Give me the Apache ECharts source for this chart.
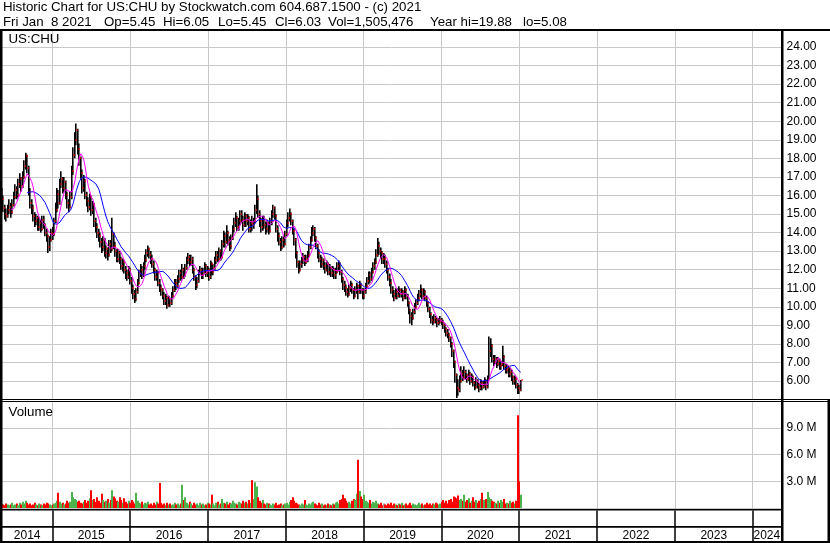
<!DOCTYPE html>
<html><head><meta charset="utf-8">
<script src="https://cdn.jsdelivr.net/npm/echarts@6/dist/echarts.min.js"></script>
<style>html,body{margin:0;padding:0;background:#fff}#c{width:830px;height:543px}</style>
</head><body><div id="c"></div>
<script>
// ---- data (weekly, first week ending Fri 2014-05-09, last week ending Fri 2021-01-08) ----
var startDate = [2014, 4, 9];
var closes = [
15.8,15.3,15.0,14.9,15.2,15.4,15.1,15.5,15.9,16.3,
16.0,16.6,16.9,16.5,17.0,17.6,18.1,17.5,16.2,15.6,
15.3,14.9,14.6,14.8,14.3,14.5,14.2,14.7,14.4,14.0,
13.8,13.2,13.6,14.0,13.9,14.6,15.2,16.1,15.6,16.6,
16.9,16.4,16.7,16.0,15.6,15.4,15.9,17.3,18.2,19.0,
19.5,18.5,18.0,17.2,16.4,16.8,16.0,15.7,15.4,15.9,
15.2,15.5,14.6,14.3,14.0,13.8,13.5,13.2,13.6,12.9,
13.1,12.8,13.4,13.1,13.9,13.3,13.0,12.6,12.9,12.6,
12.2,12.4,12.0,11.8,11.6,12.0,11.4,11.0,10.7,10.4,
10.8,11.3,11.8,12.0,11.7,12.2,12.5,12.9,13.1,12.8,
12.6,12.3,12.0,11.6,11.8,11.3,11.0,10.9,10.6,10.3,
10.5,10.1,10.4,10.2,10.6,10.9,11.3,11.1,11.5,11.8,
11.6,12.0,11.7,12.1,12.5,12.7,12.4,12.6,12.0,11.6,
11.2,11.4,11.8,12.0,11.7,11.9,12.2,11.8,12.0,11.6,
12.3,11.9,12.1,12.5,12.8,12.6,13.0,12.7,13.4,13.8,
13.5,14.0,13.6,13.3,13.7,14.2,14.5,14.8,14.3,14.6,
15.0,14.7,14.4,14.9,14.6,14.8,14.2,14.5,14.4,14.6,
15.2,15.8,15.0,14.6,14.3,14.7,14.4,14.2,14.5,14.1,
14.6,15.0,15.3,14.9,14.2,13.8,13.5,13.2,13.6,13.4,
13.9,14.5,14.8,15.0,14.6,14.1,13.6,12.9,12.4,12.0,
12.3,12.5,12.7,12.4,12.6,12.8,13.2,13.6,14.0,14.2,
13.7,13.3,12.9,12.6,12.3,12.5,12.2,12.0,12.3,11.9,
12.1,11.8,12.0,11.7,11.9,12.2,12.3,11.9,11.5,11.2,
11.0,10.8,10.7,11.0,11.2,10.9,10.6,10.9,11.1,10.8,
11.2,10.9,10.6,10.8,11.1,11.4,11.7,11.5,11.9,12.2,
12.4,12.8,13.3,13.0,12.9,12.6,12.6,12.3,12.0,11.6,
11.3,10.9,10.7,10.5,10.8,10.6,10.9,10.7,10.8,10.5,
10.9,10.6,10.2,9.8,9.5,9.4,9.7,10.0,10.2,10.5,
10.7,10.9,10.6,10.8,10.5,10.2,9.9,9.6,9.3,9.2,
9.4,9.3,9.1,9.2,9.3,9.2,9.0,8.8,8.6,8.5,
8.3,8.0,7.6,7.0,6.3,5.6,5.5,6.0,6.4,6.2,
6.5,6.3,6.1,6.4,6.0,6.2,5.9,5.7,6.0,5.8,
5.6,5.9,5.7,5.8,6.0,5.7,6.1,7.6,7.9,7.2,
7.0,7.2,6.9,7.1,6.8,6.9,7.3,6.8,6.6,6.7,
6.4,6.5,6.2,6.0,6.1,5.8,5.6,5.5,6.03
];
var highs = [
16.4,16.0,15.5,15.3,15.5,15.8,15.6,15.8,16.2,16.6,
16.5,16.9,17.2,17.0,17.3,17.9,18.3,18.2,17.6,16.4,
15.8,15.5,15.1,15.0,14.9,14.8,14.7,14.9,14.9,14.5,
14.2,13.9,13.8,14.2,14.3,14.8,15.6,16.4,16.3,16.9,
17.3,17.0,17.0,16.8,16.2,15.8,16.2,17.6,18.6,19.4,
19.88,19.6,18.8,18.1,17.4,17.1,16.9,16.2,15.9,16.1,
16.0,15.7,15.6,14.8,14.5,14.2,14.0,13.7,13.8,13.7,
13.3,13.2,13.6,13.6,14.8,14.0,13.5,13.1,13.1,13.0,
12.7,12.6,12.5,12.2,12.0,12.2,12.1,11.6,11.2,10.9,
11.0,11.5,12.0,12.3,12.2,12.4,12.8,13.1,13.3,13.2,
13.0,12.8,12.5,12.1,12.0,11.9,11.5,11.2,11.0,10.8,
10.7,10.6,10.6,10.5,10.8,11.1,11.5,11.5,11.7,12.0,
12.0,12.3,12.1,12.3,12.7,12.9,12.8,12.8,12.7,12.1,
11.7,11.6,12.0,12.2,12.1,12.1,12.4,12.3,12.2,12.1,
12.5,12.4,12.3,12.7,13.0,13.0,13.2,13.1,13.6,14.1,
14.0,14.4,14.1,13.8,13.9,14.4,14.8,15.1,14.9,14.8,
15.2,15.2,14.9,15.1,15.0,15.0,14.9,14.7,14.9,14.8,
15.5,16.6,16.0,15.2,14.8,14.9,14.9,14.6,14.7,14.6,
14.8,15.2,15.5,15.4,15.0,14.4,14.0,13.7,13.8,13.8,
14.1,14.7,15.1,15.3,15.1,14.7,14.2,13.7,13.0,12.5,
12.5,12.7,12.9,12.8,12.8,13.0,13.4,13.8,14.3,14.4,
14.3,13.8,13.4,13.1,12.8,12.7,12.6,12.4,12.5,12.4,
12.3,12.2,12.2,12.1,12.1,12.4,12.5,12.4,12.0,11.6,
11.4,11.2,11.0,11.2,11.4,11.3,11.0,11.1,11.3,11.2,
11.4,11.3,11.0,11.0,11.3,11.6,11.9,11.9,12.1,12.4,
12.6,13.1,13.7,13.5,13.2,13.0,12.9,12.8,12.5,12.1,
11.8,11.5,11.1,10.9,11.0,11.0,11.1,11.0,11.0,10.9,
11.1,11.0,10.7,10.3,9.9,9.7,9.9,10.2,10.4,10.7,
10.9,11.2,11.0,11.0,10.9,10.6,10.3,10.0,9.7,9.5,
9.6,9.5,9.4,9.4,9.5,9.4,9.3,9.1,8.9,8.8,
8.6,8.4,8.1,7.7,7.1,6.4,6.1,6.3,6.8,6.6,
6.8,6.6,6.4,6.6,6.5,6.4,6.3,6.0,6.2,6.1,
5.9,6.1,6.0,6.0,6.2,6.1,6.3,8.4,8.3,8.0,
7.4,7.4,7.3,7.3,7.2,7.1,7.9,7.4,6.9,6.9,
6.8,6.7,6.6,6.3,6.3,6.2,5.9,5.8,6.05
];
var lows = [
15.4,15.1,14.7,14.6,14.8,15.0,14.8,15.0,15.4,15.8,
15.8,15.9,16.4,16.2,16.4,16.9,17.4,17.2,16.0,15.3,
15.0,14.6,14.3,14.4,14.1,14.1,14.0,14.1,14.2,13.8,
13.5,12.9,13.0,13.5,13.6,13.8,14.5,15.1,15.3,15.5,
16.4,16.1,16.2,15.8,15.3,15.1,15.3,15.8,17.1,18.0,
18.7,18.2,17.6,16.9,16.1,16.2,15.8,15.4,15.1,15.2,
14.9,15.0,14.3,14.0,13.7,13.5,13.2,12.9,13.0,12.7,
12.6,12.5,12.7,12.9,13.0,13.1,12.7,12.4,12.4,12.3,
12.0,11.9,11.8,11.5,11.4,11.5,11.2,10.7,10.4,10.2,
10.3,10.7,11.2,11.6,11.5,11.6,12.0,12.4,12.7,12.6,
12.3,12.1,11.8,11.4,11.4,11.1,10.8,10.6,10.4,10.1,
10.1,9.9,10.0,10.0,10.1,10.5,10.8,10.9,11.0,11.3,
11.4,11.5,11.5,11.6,12.0,12.3,12.2,12.2,11.8,11.4,
10.9,11.0,11.3,11.7,11.5,11.5,11.8,11.6,11.6,11.4,
11.5,11.7,11.7,12.0,12.3,12.4,12.5,12.5,12.6,13.2,
13.2,13.4,13.3,13.0,13.1,13.6,14.0,14.3,14.1,14.1,
14.4,14.5,14.1,14.3,14.3,14.4,14.0,14.0,14.1,14.2,
14.5,15.0,14.8,14.3,14.0,14.1,14.2,13.9,14.0,13.9,
14.0,14.4,14.8,14.7,14.0,13.5,13.3,13.0,13.1,13.2,
13.3,13.8,14.3,14.6,14.4,13.9,13.3,12.6,12.1,11.8,
11.9,12.1,12.3,12.2,12.3,12.4,12.7,13.1,13.5,13.8,
13.5,13.1,12.6,12.4,12.1,12.1,12.0,11.8,11.9,11.7,
11.7,11.6,11.6,11.5,11.5,11.8,11.9,11.7,11.3,10.9,
10.8,10.6,10.5,10.6,10.8,10.7,10.4,10.5,10.7,10.4,
10.7,10.7,10.4,10.4,10.7,11.0,11.2,11.3,11.4,11.8,
12.0,12.3,12.7,12.8,12.6,12.3,12.3,12.1,11.8,11.4,
11.1,10.7,10.5,10.3,10.4,10.4,10.5,10.5,10.5,10.3,
10.4,10.4,10.0,9.6,9.1,9.0,9.3,9.6,9.9,10.1,
10.3,10.5,10.4,10.4,10.3,10.0,9.7,9.4,9.1,9.0,
9.1,9.1,8.9,9.0,9.1,9.0,8.8,8.6,8.4,8.3,
8.1,7.8,7.3,6.7,5.9,5.08,5.2,5.4,5.9,6.0,
6.1,6.1,5.9,6.0,5.8,5.9,5.7,5.5,5.6,5.6,
5.4,5.5,5.5,5.6,5.7,5.5,5.6,6.1,7.3,7.0,
6.8,6.9,6.7,6.8,6.6,6.6,6.8,6.6,6.4,6.4,
6.2,6.2,6.0,5.8,5.8,5.6,5.3,5.3,5.45
];
// volume in millions of shares
var volumes = [
0.5,0.4,0.3,0.5,0.4,0.3,0.4,0.6,0.3,0.4,
0.5,0.3,0.6,0.4,0.7,0.5,0.8,0.6,0.4,0.5,
0.3,0.4,0.6,0.4,0.3,0.5,0.4,0.3,0.5,0.4,
0.6,0.5,0.4,0.3,0.4,0.5,0.6,0.8,1.7,0.7,
0.5,0.6,0.4,0.5,0.8,0.6,0.7,1.8,1.2,1.0,
0.9,0.7,0.8,0.6,0.5,0.7,0.9,0.6,0.8,1.1,
2.0,0.9,1.0,0.7,1.2,0.8,0.6,1.6,0.9,0.7,
0.8,1.0,0.6,0.9,2.0,1.3,1.1,0.8,0.7,1.2,
0.9,0.6,1.1,0.7,0.5,0.8,0.6,0.9,0.7,0.5,
1.7,0.8,0.6,0.5,0.7,0.4,0.6,0.5,0.7,0.4,
0.5,0.3,0.6,0.4,0.7,0.5,2.8,0.6,0.4,0.5,
0.3,0.6,0.4,0.5,0.3,0.4,0.6,0.4,0.5,0.3,
0.5,2.6,0.9,1.2,0.6,0.4,0.7,0.5,0.3,0.6,
0.4,0.5,0.3,0.6,0.4,0.5,0.3,0.4,0.6,0.5,
0.4,1.5,0.5,0.3,0.6,0.7,0.4,0.5,1.0,0.6,
0.5,0.7,0.4,0.6,0.5,0.8,0.6,0.5,0.4,0.7,
0.6,0.5,0.8,0.6,0.7,0.5,0.9,0.6,3.1,1.0,
2.9,2.4,1.2,0.8,0.6,0.9,0.5,0.4,0.6,0.5,
0.4,0.3,0.5,0.4,0.6,0.3,0.4,0.5,0.3,0.4,
0.5,0.6,0.4,0.7,0.9,1.2,0.8,0.6,0.5,0.4,
0.3,0.5,0.4,0.9,0.4,0.3,0.5,0.4,0.6,0.7,
0.5,0.4,0.3,0.6,0.4,0.5,0.3,0.4,0.3,0.5,
0.4,0.3,0.5,0.4,0.6,0.7,0.5,0.9,1.0,1.5,
1.1,0.8,0.6,0.7,0.5,0.8,1.0,0.9,1.6,5.4,
1.9,1.3,1.0,1.5,0.8,0.7,0.6,0.9,0.5,0.7,
0.6,0.8,0.5,0.4,0.6,0.3,0.5,0.4,0.3,0.5,
0.4,0.6,0.3,0.5,0.4,0.3,0.5,0.4,0.6,0.3,
0.4,0.5,0.3,0.4,0.6,0.3,0.5,0.4,0.3,0.4,
0.6,0.4,0.5,0.3,0.4,0.6,0.4,0.5,0.3,0.5,
0.4,0.6,0.5,0.4,0.5,0.7,0.9,0.6,0.8,0.5,
0.9,1.0,0.7,1.3,1.2,1.1,1.4,0.9,1.0,0.8,
1.5,0.7,0.9,1.1,0.6,0.8,1.2,0.7,0.9,0.6,
0.8,1.0,1.7,0.9,0.6,1.0,1.8,1.2,1.0,0.8,
0.7,0.6,0.5,0.8,0.6,0.9,0.7,1.0,0.5,0.6,
0.5,0.8,0.6,0.7,0.5,0.8,10.4,3.0,1.5
];
var yearLabels = [2014,2015,2016,2017,2018,2019,2020,2021,2022,2023,2024];
var yearBounds = [2015,2016,2017,2018,2019,2020,2021,2022,2023,2024];
var maShort = 7, maLong = 18;
var headerLine1 = 'Historic Chart for US:CHU by Stockwatch.com 604.687.1500 - (c) 2021';
var headerLine2Parts = ['Fri Jan  8 2021', 'Op=5.45', 'Hi=6.05', 'Lo=5.45', 'Cl=6.03', 'Vol=1,505,476', 'Year hi=19.88', 'lo=5.08'];
var symbolLabel = 'US:CHU';
var volumeLabel = 'Volume';

// ---- build ----
function fracYear(ms){ var d=new Date(ms); var y=d.getUTCFullYear(); var a=Date.UTC(y,0,1), b=Date.UTC(y+1,0,1); return y+(ms-a)/(b-a); }
var t0 = Date.UTC(startDate[0], startDate[1], startDate[2]);
var times = closes.map(function(_, i){ return fracYear(t0 + i*7*864e5); });
function sma(arr, n){ var out=[]; for (var i=n-1;i<arr.length;i++){ var s=0; for (var j=i-n+1;j<=i;j++) s+=arr[j]; out.push([times[i], s/n]); } return out; }

var XMIN = 2014.3536, XMAX = 2024.3637, GL = 2, GR = 49;
var labelVals = yearLabels.map(function(y){ var a=Math.max(y,XMIN), b=Math.min(y+1,XMAX); return (a+b)/2; });
var FONT = '"Liberation Sans", Arial, sans-serif';
var HFS = 13.3;

var ohlc = times.map(function(t,i){ return [t, lows[i], highs[i], closes[i]]; });
var vol = times.map(function(t,i){ var d = i===0 ? 1 : (closes[i]>closes[i-1] ? 1 : (closes[i]<closes[i-1] ? -1 : 0)); return [t, volumes[i], d]; });

function R(x,y,w,h,fill,z){ return {type:'rect', shape:{x:x,y:y,width:w,height:h}, style:{fill:fill||'#000'}, z:z||100, silent:true}; }
function T(x,y,txt){ return {type:'text', x:x, y:y, z:101, silent:true, style:{text:txt, fill:'#000', fontSize:HFS, fontFamily:FONT, verticalAlign:'top', align:'left'}}; }

function gx(idx){ return {gridIndex:idx, type:'value', min:XMIN, max:XMAX, axisLine:{show:false},
  axisTick:{show:false, customValues:yearBounds}, axisLabel:{show:false},
  splitLine:{show:true, lineStyle:{color:'#c8c8c8', width:1}}}; }

var line2X = [3, 104, 163, 218, 275, 328, 430, 523];
var headerTexts = [T(3,1,headerLine1)].concat(headerLine2Parts.map(function(s,i){ return T(line2X[i],16,s); }));

var chart = echarts.init(document.getElementById('c'));
chart.setOption({
  animation:false,
  backgroundColor:'#fff',
  grid:[
    {left:GL, right:GR, top:28.44, height:371.12},
    {left:GL, right:GR, top:401, height:107},
    {left:GL, right:GR, top:510.5, height:30.5}
  ],
  xAxis:[
    gx(0), gx(1),
    {gridIndex:2, type:'value', min:XMIN, max:XMAX, axisLine:{show:false},
     axisTick:{show:false, customValues:yearBounds},
     splitLine:{show:true, lineStyle:{color:'#000', width:1.5}},
     axisLabel:{show:true, customValues:labelVals, inside:true, margin:-1, color:'#000', fontFamily:FONT, fontSize:12,
       formatter:function(v){ return String(Math.floor(v+1e-6)); }}}
  ],
  yAxis:[
    {gridIndex:0, type:'value', position:'right', min:5, max:25, interval:1, axisLine:{show:false}, axisTick:{show:false},
     axisLabel:{showMinLabel:false, showMaxLabel:false, margin:5.5, padding:[2,0,0,0], color:'#000', fontFamily:FONT, fontSize:12, formatter:function(v){return v.toFixed(2);}},
     splitLine:{show:true, lineStyle:{color:'#c8c8c8', width:1}}},
    {gridIndex:1, type:'value', position:'right', min:0, max:12, interval:3, axisLine:{show:false}, axisTick:{show:false},
     axisLabel:{showMinLabel:false, showMaxLabel:false, margin:5.5, color:'#000', fontFamily:FONT, fontSize:12, formatter:function(v){return v.toFixed(1)+' M';}},
     splitLine:{show:true, lineStyle:{color:'#c8c8c8', width:1}}},
    {gridIndex:2, type:'value', show:false, min:0, max:1}
  ],
  series:[
    {type:'custom', xAxisIndex:0, yAxisIndex:0, clip:true, z:3, silent:true,
     encode:{x:0, y:[1,2]}, data:ohlc,
     renderItem:function(params, api){
       var t=api.value(0);
       var pl=api.coord([t, api.value(1)]), ph=api.coord([t, api.value(2)]);
       var x=Math.round(pl[0]);
       return {type:'rect', shape:{x:x-1, y:ph[1], width:1.6, height:Math.max(1, pl[1]-ph[1])}, style:{fill:'#000'}};
     }},
    {type:'custom', xAxisIndex:0, yAxisIndex:0, clip:true, z:4, silent:true,
     encode:{x:0, y:3}, data:ohlc,
     renderItem:function(params, api){
       var t=api.value(0);
       var pc=api.coord([t, api.value(3)]);
       var x=Math.round(pc[0]);
       return {type:'rect', shape:{x:x+0.6, y:Math.round(pc[1])-1, width:1, height:2}, style:{fill:'#ff0000'}};
     }},
    {type:'line', xAxisIndex:0, yAxisIndex:0, data:sma(closes, maLong), symbol:'none', showSymbol:false, z:5, silent:true,
     lineStyle:{color:'#0000ff', width:1}},
    {type:'line', xAxisIndex:0, yAxisIndex:0, data:sma(closes, maShort), symbol:'none', showSymbol:false, z:6, silent:true,
     lineStyle:{color:'#ff00ff', width:1}},
    {type:'custom', xAxisIndex:1, yAxisIndex:1, clip:true, z:3, silent:true,
     encode:{x:0, y:1}, data:vol,
     renderItem:function(params, api){
       var t=api.value(0);
       var p=api.coord([t, api.value(1)]), b=api.coord([t, 0]);
       var x=Math.round(p[0]), d=api.value(2);
       var col = d>0 ? '#4db34d' : (d<0 ? '#ff0000' : '#a0a0a0');
       return {type:'rect', shape:{x:x-1, y:p[1], width:2, height:b[1]-p[1]}, style:{fill:col}};
     }}
  ],
  graphic:{elements:[
    R(0,0,830,29,'#fff',99),
    R(0,29,830,2),
    R(0,29,2.5,514),
    R(827.5,399,2.5,144),
    R(781,31,2.5,512),
    R(0,399,830,1),
    R(0,401,830,1),
    R(0,509,781,1.5),
    R(0,526,781,1.7),
    R(0,541,830,2),
    T(8.5,33,symbolLabel),
    T(8.5,406,volumeLabel)
  ].concat(headerTexts)}
});
</script></body></html>
